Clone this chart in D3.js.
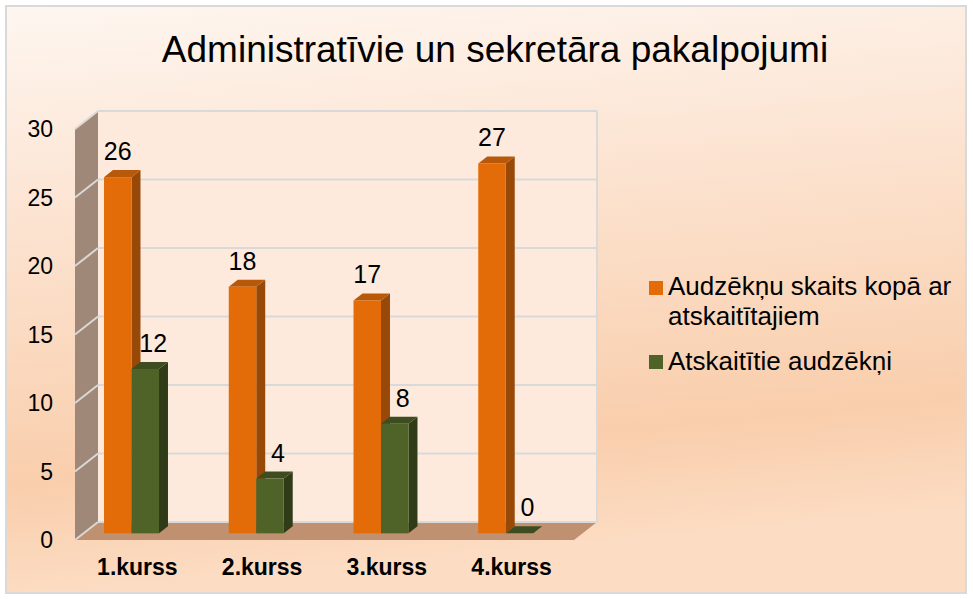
<!DOCTYPE html>
<html>
<head>
<meta charset="utf-8">
<script src="https://cdn.jsdelivr.net/npm/d3@7"></script>
<style>
  body { margin: 0; background: #fff; }
  text { font-family: "Liberation Sans", Arial, sans-serif; fill: #000; }
</style>
</head>
<body>
<svg class="chart"></svg>
<script>
// chart data
var title = "Administratīvie un sekretāra pakalpojumi";
var categories = ["1.kurss", "2.kurss", "3.kurss", "4.kurss"];
var seriesNames = ["Audzēkņu skaits kopā ar atskaitītajiem", "Atskaitītie audzēkņi"];
var totalStudents = [26, 18, 17, 27];
var expelledStudents = [12, 4, 8, 0];
var yTicks = [0, 5, 10, 15, 20, 25, 30];

var W = 973, H = 599;
var DX = 23, DY = 18;          // depth offset of the 3d box
var d1 = 0.37, d2 = 0.76;      // bar depth (fraction of box depth)

var colors = [
  { front: "#E36C09", side: "#984807", top: "#B8580A" },
  { front: "#4F6228", side: "#303C17", top: "#3E4D1F" }
];

var svg = d3.select(".chart").attr("width", W).attr("height", H);

// background gradient
var defs = svg.append("defs");
var grad = defs.append("linearGradient").attr("id", "bg")
  .attr("x1", 0).attr("y1", 0).attr("x2", 0.15).attr("y2", 1);
grad.append("stop").attr("offset", "0").attr("stop-color", "#FEF6F0");
grad.append("stop").attr("offset", "0.35").attr("stop-color", "#FCE4D2");
grad.append("stop").attr("offset", "0.8").attr("stop-color", "#F9CEAC");
grad.append("stop").attr("offset", "1").attr("stop-color", "#FCDDC4");

svg.append("rect")
  .attr("x", 6).attr("y", 6).attr("width", 960).attr("height", 587)
  .attr("fill", "url(#bg)")
  .attr("stroke", "#D9D9D9").attr("stroke-width", 2);

// title
svg.append("text")
  .attr("x", 495).attr("y", 62)
  .style("text-anchor", "middle")
  .style("font-size", "37px")
  .text(title);

// scales (front plane)
var y = d3.scaleLinear().domain([0, 30]).range([540, 129]);
var x0 = d3.scaleBand().domain(categories).range([75, 574]);
var x1 = d3.scaleBand().domain(seriesNames).range([0, 55]);

function px(x, d) { return x + DX * d; }
function py(v, d) { return y(v) - DY * d; }
function pt(x, v, d) { return px(x, d) + "," + py(v, d); }

var left = x0.range()[0], right = x0.range()[1];

// side wall
svg.append("polygon")
  .attr("points", [pt(left, 0, 0), pt(left, 30, 0), pt(left, 30, 1), pt(left, 0, 1)].join(" "))
  .attr("fill", "#A08878");

// floor
svg.append("polygon")
  .attr("points", [pt(left, 0, 0), pt(right, 0, 0), pt(right, 0, 1), pt(left, 0, 1)].join(" "))
  .attr("fill", "#BF9170");

// back wall
svg.append("rect")
  .attr("x", px(left, 1)).attr("y", py(30, 1))
  .attr("width", right - left).attr("height", py(0, 1) - py(30, 1))
  .attr("fill", "#FDEADC");

// gridlines
var grid = svg.append("g").attr("stroke", "#D9D9D9").attr("stroke-width", 2).attr("fill", "none");
grid.selectAll(".gb").data(yTicks).enter().append("line")
  .attr("x1", px(left, 1)).attr("x2", px(right, 1))
  .attr("y1", function(v) { return py(v, 1); })
  .attr("y2", function(v) { return py(v, 1); });
grid.selectAll(".gs").data(yTicks).enter().append("line")
  .attr("x1", px(left, 0)).attr("x2", px(left, 1))
  .attr("y1", function(v) { return py(v, 0); })
  .attr("y2", function(v) { return py(v, 1); });
grid.append("line")
  .attr("x1", px(right, 1)).attr("x2", px(right, 1))
  .attr("y1", py(30, 1)).attr("y2", py(0, 1));

// y labels
svg.selectAll(".ylab").data(yTicks).enter().append("text")
  .attr("x", 53).attr("y", function(v) { return y(v) + 8; })
  .style("text-anchor", "end")
  .style("font-size", "23px")
  .text(function(v) { return v; });

// bars
var bars = [];
categories.forEach(function(c, i) {
  [totalStudents[i], expelledStudents[i]].forEach(function(v, s) {
    bars.push({ cat: c, s: s, v: v });
  });
});

var bar = svg.selectAll(".bar").data(bars).enter().append("g");

function bx(d) { return x0(d.cat) + 20.5 + x1(seriesNames[d.s]); }

bar.append("polygon")   // side
  .attr("points", function(d) {
    var xr = bx(d) + x1.bandwidth();
    return [pt(xr, d.v, d1), pt(xr, d.v, d2), pt(xr, 0, d2), pt(xr, 0, d1)].join(" ");
  })
  .attr("fill", function(d) { return colors[d.s].side; });

bar.append("polygon")   // top
  .attr("points", function(d) {
    var xl = bx(d), xr = xl + x1.bandwidth();
    return [pt(xl, d.v, d1), pt(xr, d.v, d1), pt(xr, d.v, d2), pt(xl, d.v, d2)].join(" ");
  })
  .attr("fill", function(d) { return colors[d.s].top; });

bar.append("rect")      // front
  .attr("x", function(d) { return px(bx(d), d1); })
  .attr("y", function(d) { return py(d.v, d1); })
  .attr("width", x1.bandwidth())
  .attr("height", function(d) { return py(0, d1) - py(d.v, d1); })
  .attr("fill", function(d) { return colors[d.s].front; });

// value labels
svg.selectAll(".vlab").data(bars).enter().append("text")
  .attr("x", function(d) { return px(bx(d), d1) + x1.bandwidth() / 2 + (d.s ? 8 : 0); })
  .attr("y", function(d) { return py(d.v, d1) - 17; })
  .style("text-anchor", "middle")
  .style("font-size", "25px")
  .text(function(d) { return d.v; });

// category labels
svg.selectAll(".xlab").data(categories).enter().append("text")
  .attr("x", function(c) { return x0(c) + x0.bandwidth() / 2; })
  .attr("y", 575)
  .style("text-anchor", "middle")
  .style("font-size", "23px")
  .style("font-weight", "bold")
  .text(function(c) { return c; });

// legend
var legend = svg.append("g");
legend.append("rect").attr("x", 649).attr("y", 281).attr("width", 14).attr("height", 14).attr("fill", colors[0].front);
legend.append("text").attr("x", 668).attr("y", 295).style("font-size", "26px").text("Audzēkņu skaits kopā ar");
legend.append("text").attr("x", 668).attr("y", 325).style("font-size", "26px").text("atskaitītajiem");
legend.append("rect").attr("x", 649).attr("y", 355).attr("width", 14).attr("height", 14).attr("fill", colors[1].front);
legend.append("text").attr("x", 668).attr("y", 370).style("font-size", "26px").text(seriesNames[1]);
</script>
</body>
</html>
